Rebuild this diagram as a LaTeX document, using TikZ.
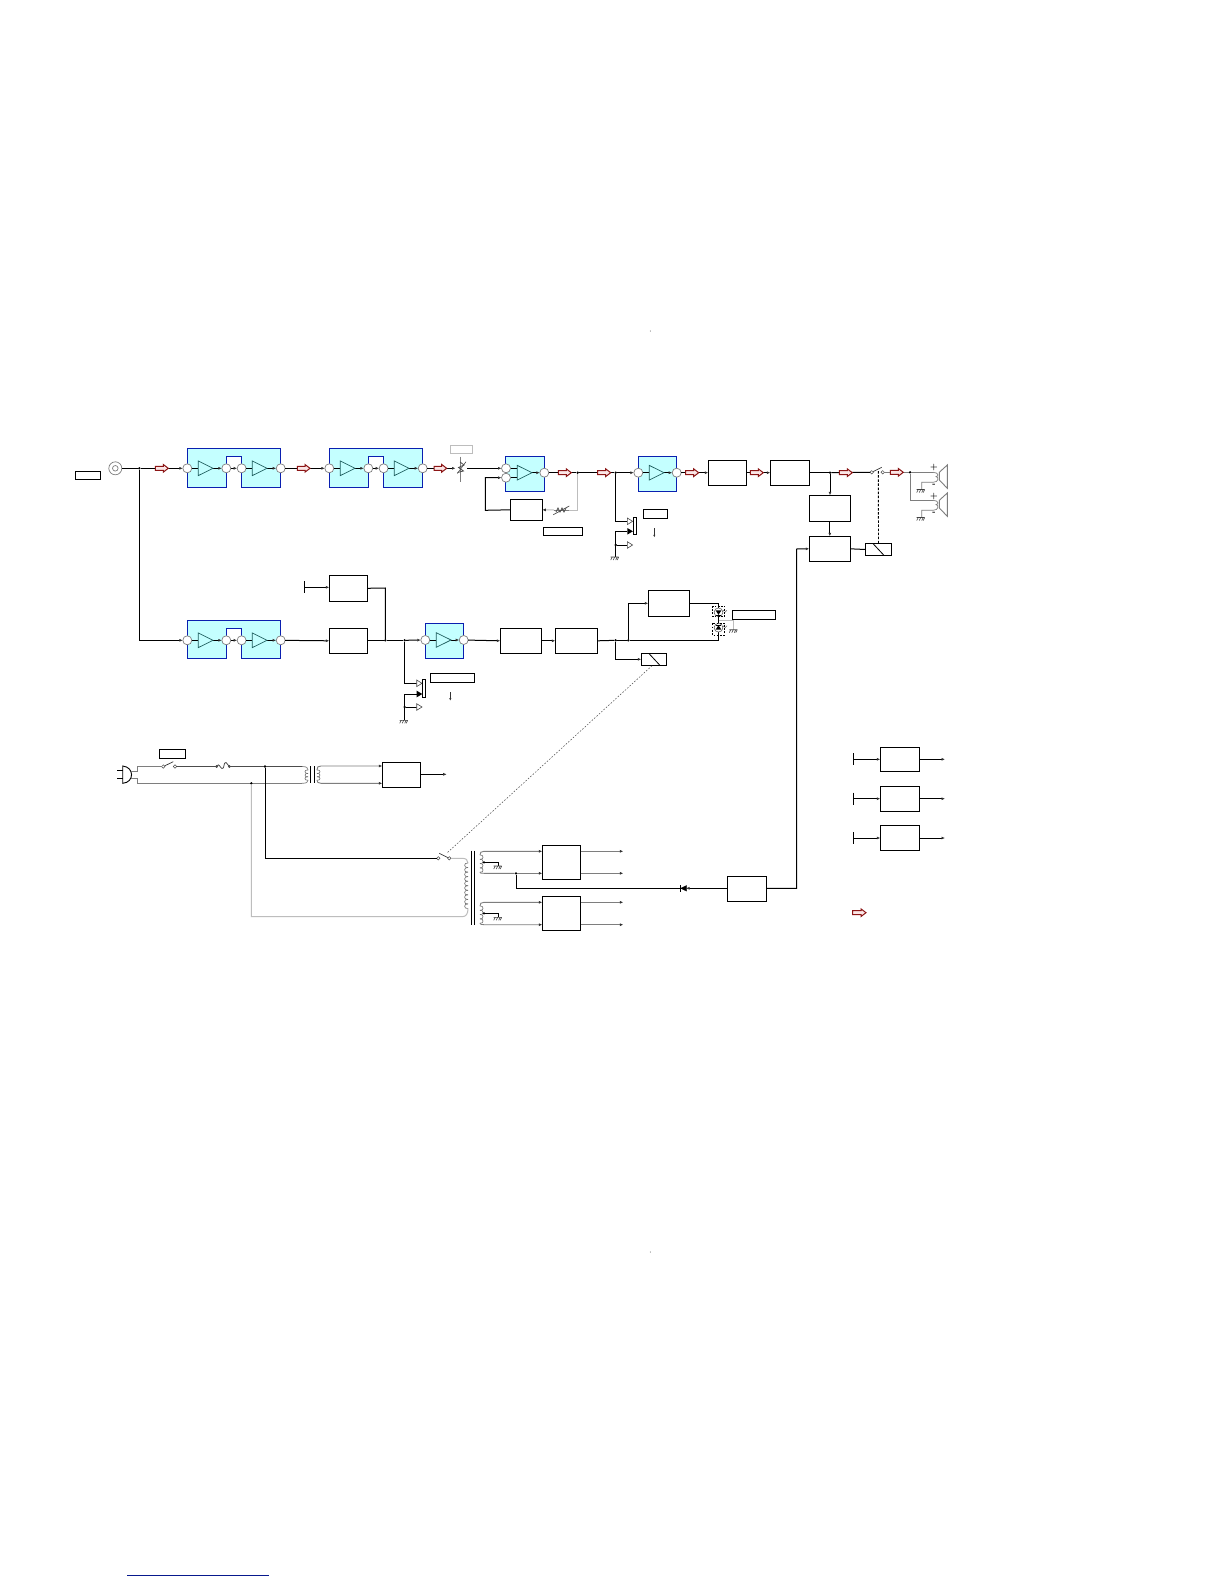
\documentclass[tikz,border=0pt]{standalone}
\usepackage{tikz}
\usetikzlibrary{arrows.meta}
\definecolor{ampfill}{HTML}{C4FFFF}
\definecolor{ampblue}{HTML}{0A1FB0}
\definecolor{redarr}{HTML}{8C1616}
\definecolor{redin}{HTML}{FBE6E6}
\definecolor{wiregray}{HTML}{7E7E7E}
\definecolor{lightw}{HTML}{BDBDBD}
\definecolor{trig}{HTML}{1F5F5F}
\tikzset{
  bx/.style={draw=black,line width=1pt,fill=white,inner sep=0pt,outer sep=0pt},
  wire/.style={draw=black,line width=1pt},
  gw/.style={draw=wiregray,line width=.9pt},
  lw/.style={draw=lightw,line width=1pt},
  tip/.style={-{Latex[length=3.5pt,width=3pt,color=black!80]}},
  port/.style={circle,draw=wiregray,line width=.7pt,fill=white,minimum size=9pt,inner sep=0pt,outer sep=0pt},
  contact/.style={circle,draw=black!70,line width=.5pt,fill=white,minimum size=3.4pt,inner sep=0pt,outer sep=0pt},
  dot/.style={circle,fill=black,minimum size=2.6pt,inner sep=0pt,outer sep=0pt},
  tick/.style={draw=black,line width=1pt},
}
\newcommand\bxn[5]{\node[bx,minimum width={#4-#2},minimum height={#5-#3}] (#1) at ({(#2+#4)/2},{(#3+#5)/2}) {};}
\newcommand\tri[3]{\draw[trig,line width=.7pt,fill=ampfill] ({#1},{(#2)-7.3}) -- ({(#1)+#3},{#2}) -- ({#1},{(#2)+7.3}) -- cycle;}
\newcommand\ramp[4]{\draw[redarr,line width=1pt,fill=redin] (#1,{#3-2}) -- ({#2-5},{#3-2}) -- ({#2-5},{#3-3.8}) -- (#2,#3) -- ({#2-5},{#3+3.8}) -- ({#2-5},{#3+2}) -- (#1,{#3+2}) -- cycle;}
% double amplifier block: name, left x, top y, height
\newcommand\damp[4]{%
  \draw[ampblue,line width=1pt,fill=ampfill] (#2,#3) -- ({#2+93.4},#3) -- ({#2+93.4},{#3+#4}) -- ({#2+54.3},{#3+#4}) -- ({#2+54.3},{#3+8}) -- ({#2+39},{#3+8}) -- ({#2+39},{#3+#4}) -- (#2,{#3+#4}) -- cycle;
  \fill[white] ({#2+39.5},{#3+8.5}) rectangle ({#2+53.8},{#3+#4+1});
  \node[port] (#1a) at (#2,{#3+20}) {};
  \node[port] (#1b) at ({#2+39},{#3+20}) {};
  \node[port] (#1c) at ({#2+54.3},{#3+20}) {};
  \node[port] (#1d) at ({#2+93.4},{#3+20}) {};
  \coordinate (#1t) at ({#2+11},{#3+20});
  \coordinate (#1u) at ({#2+65},{#3+20});
  \coordinate (#1v) at ({#2+26},{#3+20});
  \coordinate (#1w) at ({#2+80},{#3+20});
  \draw[wire] (#1a) -- (#1t);
  \draw[wire,tip] (#1v) -- (#1b);
  \draw[wire,tip] (#1b) -- (#1c);
  \draw[wire] (#1c) -- (#1u);
  \draw[wire,tip] (#1w) -- (#1d);
  \tri{#2+11}{#3+20}{14.7}
  \tri{#2+65}{#3+20}{14.7}
}
% single amplifier block: name, x1, x2, y1, y2, wire y
\newcommand\samp[6]{%
  \draw[ampblue,line width=1pt,fill=ampfill] (#2,#4) rectangle (#3,#5);
  \node[port] (#1a) at (#2,#6) {};
  \node[port] (#1d) at (#3,#6) {};
  \coordinate (#1t) at ({#2+11},#6);
  \coordinate (#1v) at ({#2+25.7},#6);
  \draw[wire] (#1a) -- (#1t);
  \draw[wire,tip] (#1v) -- (#1d);
  \tri{#2+11}{#6}{14.7}
}
\newcommand\gnd[2]{\draw[black!75,line width=.6pt] ({(#1)-4},{#2}) -- ({(#1)+4},{#2})
  ({(#1)-2.5},{#2}) -- ({(#1)-4},{(#2)+3}) ({#1},{#2}) -- ({(#1)-1.5},{(#2)+3}) ({(#1)+2.5},{#2}) -- ({(#1)+1},{(#2)+3}) ({(#1)+4},{#2}) -- ({(#1)+2.5},{(#2)+3});}
\newcommand\relayn[5]{\bxn{#1}{#2}{#3}{#4}{#5}\draw[black,line width=.8pt] ({#2+7.7},{#3+.3}) -- ({#2+18.7},{#5-.3});}
\newcommand\htri[2]{\draw[black!70,line width=.6pt,fill=white] (#1,{#2-3.3}) -- ({#1+5.3},#2) -- (#1,{#2+3.3}) -- cycle;}
\newcommand\ftri[2]{\fill[black] (#1,{#2-3.3}) -- ({#1+5.6},#2) -- (#1,{#2+3.3}) -- cycle;}
\newcommand\coilv[6]{% x, y1, step, count, bulge, colour
  \foreach \ci in {1,...,#4}{\draw[#6,line width=.55pt] (#1,{#2+(\ci-1)*#3}) .. controls ({#1+#5},{#2+(\ci-1)*#3-.8}) and ({#1+#5},{#2+\ci*#3+.8}) .. (#1,{#2+\ci*#3});}}
\begin{document}
\begin{tikzpicture}[x=1pt,y=-1pt,line cap=butt]
\useasboundingbox[fill=white] (0,0) rectangle (1224,1584);
% stray marks and bottom rule
\fill[black!70] (650.4,331) circle (.5);
\fill[black!70] (650.4,1252) circle (.5);
\draw[ampblue!80!black,line width=1pt] (127,1575.3) -- (268.7,1575.3);

%% top chain
\bxn{lblin}{75.3}{471.3}{100.7}{479.3}
\node[circle,draw=wiregray,line width=.7pt,minimum size=13pt,inner sep=0pt] (coax) at (115.3,468.3) {};
\node[circle,draw=wiregray,line width=.7pt,minimum size=5.6pt,inner sep=0pt] at (115.3,468.3) {};
\node[dot] (j0) at (139.3,468.3) {};
\damp{A}{187.3}{448.3}{39}
\damp{B}{329.3}{448.3}{39}
\draw[wire] (coax) -- (j0);
\draw[wire,tip] (j0) -- (Aa);
\draw[wire,tip] (Ad) -- (Ba);
\ramp{155.3}{168.3}{468.3}{}
\ramp{297.3}{310}{468.3}{}
% volume
\coordinate (vr) at (455.5,468.3);
\coordinate (vr2) at (467,468.3);
\draw[wire,tip] (Bd) -- (vr);
\ramp{434}{446.7}{468.3}{}
\draw[lightw,line width=.8pt] (450.7,445.3) rectangle (472.3,453.7);
\draw[wiregray,line width=.7pt] (460.7,456.7) -- (460.7,481.7);
\draw[black!70,line width=.8pt] (457.5,472.5) -- (463.5,471) -- (458.5,467.5) -- (464,465) -- (460,462);
\draw[black!70,line width=.6pt] (457.3,473.5) -- (466,461.7);
% fader IC
\draw[ampblue,line width=1pt,fill=ampfill] (505.3,456.3) rectangle (544.7,491.3);
\node[port] (Cd) at (544.3,472.7) {};
\node[port] (Cp) at (506,468.3) {};
\node[port] (Cq) at (506,477.7) {};
\draw[wire] (Cp) -- (517.3,468.3);
\draw[wire] (Cq) -- (517.3,477.7);
\coordinate (Cv) at (532,472.7);
\draw[wire,tip] (Cv) -- (Cd);
\tri{517.3}{472.7}{14.7}
\draw[wire,tip] (vr2) -- (Cp);
\bxn{fb}{510.3}{499.3}{542.3}{520.3}
\coordinate (fbl) at (485.3,510.3);
\draw[wire,tip] (fb.west) -- (fbl) -- (fbl |- Cq) -- (Cq);
\bxn{lblfb}{543.3}{527.3}{582.7}{535.3}
\node[dot] (j1) at (577.7,472.7) {};
\node[dot] (j2) at (615.7,472.7) {};
\samp{D}{638.3}{676.7}{456.3}{491.3}{472.7}
\draw[wire] (Cd) -- (j1);
\draw[wire] (j1) -- (j2);
\draw[wire,tip] (j2) -- (Da);
\draw[lw] (j1) -- (577.7,510) -- (569,510);
\draw[lw,tip] (554,510) -- (fb.east);
\draw[wiregray,line width=.7pt] (554,510) -- (569,510);
\draw[black!70,line width=.7pt] (553.3,514.7) -- (569.3,506);
\draw[black!70,line width=.7pt] (556,512) -- (558,508) -- (560,512) -- (562,508) -- (564,512) -- (566,508);
\ramp{558.3}{571.3}{472.7}{}
\ramp{597.7}{610.7}{472.7}{}
% headphone jack upper
\draw[wire] (j2) -- (615.7,521.3) -- (627.3,521.3);
\coordinate (jg) at (615.7,556.7);
\node[dot] (jd) at (615.7,545) {};
\draw[wire] (627.3,531.3) -- (615.7,531.3) -- (jg);
\draw[wire] (jd) -- (627.3,545);
\htri{627.3}{521.3}
\ftri{627.3}{531.3}
\htri{627.3}{545}
\draw[black,line width=1pt,fill=white] (633.3,517.3) rectangle (636.3,534.3);
\gnd{614.7}{557}
\bxn{lbljk}{643.3}{509.3}{667.7}{518.3}
\draw[black!80,line width=.7pt,-{Latex[length=2.5pt,width=2.2pt]}] (654.3,528.3) -- (654.3,537.3);
% power stages
\bxn{E}{708.3}{460.3}{746.7}{485.1}
\bxn{F}{770.3}{460.3}{809.3}{485.1}
\draw[wire,tip] (Dd) -- (E.west);
\draw[wire,tip] (E.east) -- (F.west);
\ramp{685.7}{698.7}{472.7}{}
\ramp{750.3}{763.3}{472.7}{}
\node[dot] (j3) at (830,472.7) {};
\node[contact] (k1) at (871.7,472.3) {};
\node[contact] (k2) at (882.7,472.3) {};
\node[dot] (j4) at (910,472.3) {};
\draw[wire] (F.east) -- (j3);
\draw[wire] (j3) -- (k1);
\draw[black!80,line width=.7pt] (k1) -- (881.7,467.3);
\ramp{839.3}{852.3}{472.7}{}
\draw[gw] (k2) -- (j4);
\ramp{890.3}{903.3}{472.3}{}
\bxn{G}{809.3}{495.3}{850.3}{521.3}
\bxn{H}{809.3}{536.3}{850.3}{561.3}
\draw[wire,tip] (j3) -- (j3 |- G.north);
\draw[wire,tip] (G.south) -- (H.north);
\relayn{R1}{865.3}{543.3}{891.7}{555.7}
\draw[wire] (H.east) -- (R1.west);
\coordinate (rd) at (878.3,470);
\draw[black,line width=.9pt,dash pattern=on 2.5pt off 1.6pt] (R1.north) -- (rd);
% speakers
\draw[gw] (j4) -- (933,472.3) (j4) -- (910,500.3) -- (933,500.3);
\foreach \yy in {0,28}{
  \draw[gw] (939.3,{472.3+\yy}) -- (947.3,{465+\yy}) -- (947.3,{488.3+\yy}) -- (939.3,{480+\yy}) -- cycle;
  \draw[wiregray,line width=.7pt] (933,{472.3+\yy}) .. controls (939,{472.5+\yy}) and (939,{476.5+\yy}) .. (936,{476.5+\yy}) .. controls (939,{477+\yy}) and (939,{482.3+\yy}) .. (933,{482.3+\yy}) -- (921.7,{482.3+\yy}) -- (921.7,{489.3+\yy});
  \gnd{920.7}{489.5+\yy}
}
\node[inner sep=0pt,font=\fontsize{8}{8}\selectfont\bfseries] (sp1) at (934,467.6) {+};
\node[inner sep=0pt,font=\fontsize{8}{8}\selectfont\bfseries] (sm1) at (934,485) {-};
\node[inner sep=0pt,font=\fontsize{8}{8}\selectfont\bfseries] (sp2) at (934,496.6) {+};
\node[inner sep=0pt,font=\fontsize{8}{8}\selectfont\bfseries] (sm2) at (934,513.2) {-};

%% second chain
\damp{K}{187.3}{620.3}{38.4}
\coordinate (jc) at (139.3,640.3);
\draw[wire] (j0) -- (jc);
\draw[wire,tip] (jc) -- (Ka);
\bxn{L}{329.3}{628.3}{367.3}{653.3}
\bxn{M}{329.3}{575.3}{367.3}{601.3}
\draw[wire,tip] (Kd) -- (L.west);
\coordinate (tm) at (304.3,587.3);
\draw[tick] (304.3,581.3) -- (304.3,592.7);
\draw[wire,tip] (tm) -- (tm -| M.west);
\node[dot] (j5) at (385.3,640.3) {};
\node[dot] (j6) at (404.7,640.3) {};
\draw[wire] (L.east |- j5) -- (j5);
\draw[wire] (j5) -- (j6);
\draw[wire] (M.east) -- (385.3,588) -- (j5);
\samp{N}{425.3}{463.7}{623.3}{658.3}{640}
\draw[wire,tip] (j6) -- (Na);
% jack lower
\draw[wire] (j6) -- (404.7,683.3) -- (416.7,683.3);
\node[dot] (je) at (404.7,707) {};
\draw[wire] (416.7,694) -- (404.7,694) -- (404.7,720);
\draw[wire] (je) -- (416.7,707);
\htri{416.7}{683.3}
\ftri{416.7}{694}
\htri{416.7}{707}
\draw[black,line width=1pt,fill=white] (422.7,679.3) rectangle (425.7,697.7);
\gnd{403.7}{720.3}
\bxn{lblj2}{430.3}{673.3}{474.7}{682.3}
\draw[black!80,line width=.7pt,-{Latex[length=2.5pt,width=2.2pt]}] (450.3,692.3) -- (450.3,700.7);
% after N
\bxn{P}{500.3}{628.3}{541.7}{653.3}
\bxn{Q}{555.3}{628.3}{597.7}{653.3}
\bxn{S}{648.3}{590.3}{689.7}{616.3}
\draw[wire,tip] (Nd) -- (P.west);
\draw[wire,tip] (P.east |- Q.west) -- (Q.west);
\node[dot] (j7) at (615.7,640.3) {};
\node[dot] (j8) at (628.3,640.3) {};
\draw[wire] (Q.east) -- (j7);
\draw[wire] (j7) -- (j8);
\draw[wire,tip] (j8) -- (628.3,603.3) -- (S.west);
\coordinate (ledb) at (718.7,640.3);
\coordinate (ledt) at (718.7,603.3);
\draw[wire] (j8) -- (ledb) -- (ledt) -- (S.east);
% LEDs
\foreach \ly/\dd in {612.3/1,627.7/-1}{
  \draw[black!70,line width=.5pt,fill=white] (718.5,\ly) circle (4.4);
  \fill[black] (715.6,{\ly-\dd*2}) -- (721.4,{\ly-\dd*2}) -- (718.5,{\ly+\dd*2.6}) -- cycle;
  \draw[black,line width=.8pt] (715.6,{\ly+\dd*2.6}) -- (721.4,{\ly+\dd*2.6});
  \draw[black!60,line width=.5pt] (725,{\ly-3}) -- (722.5,{\ly-.5}) (727,{\ly-2}) -- (724.5,{\ly+.5});
}
\draw[black,line width=.8pt,dash pattern=on 1.8pt off 1.4pt] (712.5,606) rectangle (724.5,616.7);
\draw[black,line width=.8pt,dash pattern=on 1.8pt off 1.4pt] (712.5,623.3) rectangle (724.5,635);
\draw[lightw,line width=.9pt] (718.7,620.7) -- (733.3,620.7) -- (733.3,629.5);
\gnd{733.3}{629.7}
\bxn{lblled}{732.3}{610.3}{775.7}{619.7}
\relayn{R2}{641.3}{653.3}{666.7}{665.7}
\coordinate (rr) at (615.7,659.3);
\draw[wire,tip] (j7) -- (rr) -- (rr -| R2.west);

%% power section
\bxn{lblsw}{159.3}{749.3}{185.7}{758.7}
\node[contact] (s1) at (163.3,766.5) {};
\node[contact] (s2) at (175,766.5) {};
\draw[black!80,line width=.7pt] (s1) -- (173.3,761.7);
% plug
\draw[black,line width=.9pt,fill=white] (122.7,766) .. controls (134.5,767) and (134.5,782.5) .. (122.7,783.3) -- cycle;
\draw[black,line width=.9pt] (117.3,770.7) -- (122.7,770.7) (117.3,778.3) -- (122.7,778.3);
\coordinate (pt) at (137.7,766.5);
\coordinate (pb) at (137.7,783.3);
\draw[gw] (130.5,771) -- (137.7,771) -- (pt) -- (s1);
\draw[gw] (130.5,778.5) -- (137.7,778.5) -- (pb) -- (302,783.3);
\coordinate (fu1) at (216.7,766.5);
\coordinate (fu2) at (229.3,766.5);
\draw[black!70,line width=.8pt] (s2) -- (fu1);
\draw[black!70,line width=.8pt] (fu1) .. controls (219,762) and (220,768) .. (222,768.5) .. controls (225,769) and (223,762) .. (226,762.5) .. controls (227.5,763) and (228,766) .. (fu2);
\draw[fill=white,black!70,line width=.4pt] (fu1) circle (1.2) (fu2) circle (1.2);
\node[dot] (jp) at (265,766.5) {};
\node[dot] (jn) at (251.3,783.3) {};
\draw[black!70,line width=.8pt] (fu2) -- (jp);
\draw[black!70,line width=.8pt] (jp) -- (302,766.5);
% small transformer
\draw[wiregray,line width=.7pt] (302,766.5) .. controls (307,766.5) and (308,768) .. (308,770);
\draw[wiregray,line width=.7pt] (302,783.3) .. controls (307,783.3) and (308,782) .. (308,780);
\coilv{308}{770}{3.4}{3}{-4}{black!60}
\draw[black,line width=.8pt] (310.7,766) -- (310.7,783.3) (314,766) -- (314,783.3);
\coilv{317}{770}{3.4}{3}{4}{black!60}
\bxn{T}{382.3}{762.3}{420.7}{787.7}
\coordinate (tr1) at (317,770);
\coordinate (tr2) at (317,780.2);
\draw[gw,tip] (tr1) .. controls (317,767) and (318,766) .. (321,766) -- (T.west |- 0,766);
\draw[gw,tip] (tr2) .. controls (317,782) and (318,783.3) .. (321,783.3) -- (T.west |- 0,783.3);
\coordinate (to) at (446.7,774.3);
\draw[wire,tip] (T.east |- to) -- (to);
% big transformer
\node[contact] (c1) at (438.3,858.3) {};
\node[contact] (c2) at (449.3,858.3) {};
\draw[black!80,line width=.7pt] (439.3,853.3) -- (c2);
\coordinate (pj) at (265,858.3);
\draw[wire] (jp) -- (pj) -- (c1);
\draw[lw] (c2) -- (462,858.3) .. controls (466,858.3) and (468,860) .. (468,863);
\coilv{468}{863}{4.55}{10}{-4.5}{black!60}
\draw[lw] (jn) -- (251.3,916.7) -- (462,916.7) .. controls (466,916.7) and (468,914) .. (468,908.5);
\draw[black,line width=.9pt] (471,850.7) -- (471,925) (474.3,850.7) -- (474.3,925);
% upper secondary
\bxn{U}{542.3}{845.3}{580.7}{879.3}
\bxn{V}{542.3}{896}{580.7}{930.3}
\coilv{480}{855}{4.3}{4}{4}{black!60}
\coilv{480}{906}{4.3}{4}{4}{black!60}
\draw[gw,tip] (480,855) .. controls (480,852.5) and (481,851.3) .. (484,851.3) -- (U.west |- 0,851.3);
\node[dot] (j9) at (516,873.3) {};
\draw[gw] (480,872.2) .. controls (480,873) and (481,873.3) .. (484,873.3) -- (j9);
\draw[gw,tip] (j9) -- (U.west |- j9);
\draw[gw,tip] (480,906) .. controls (480,903.5) and (481,902.3) .. (484,902.3) -- (V.west |- 0,902.3);
\draw[gw,tip] (480,923.2) .. controls (480,924) and (481,924.7) .. (484,924.7) -- (V.west |- 0,924.7);
\draw[gw,tip] (U.east |- 0,851.3) -- (623.3,851.3);
\draw[gw,tip] (U.east |- 0,873.3) -- (623.3,873.3);
\draw[gw,tip] (V.east |- 0,902.3) -- (623.3,902.3);
\draw[gw,tip] (V.east |- 0,924.7) -- (623.3,924.7);
\draw[black,line width=.8pt] (484,862.3) -- (498.3,862.3) -- (498.3,866);
\fill[black] (484,862.3) circle (1.3);
\gnd{497.7}{866}
\draw[black,line width=.8pt] (484,913.3) -- (498.3,913.3) -- (498.3,917.3);
\fill[black] (484,913.3) circle (1.3);
\gnd{497.7}{917.3}
% mechanical link
\draw[black!70,line width=.5pt,dash pattern=on 1.6pt off 1.6pt] (R2.south) ++(-2,0) -- (447.5,852.5);
% protect line
\bxn{W}{727.3}{876}{766.7}{901.7}
\coordinate (tap) at (516,888.3);
\draw[wire] (j9) -- (tap) -- (681.5,888.3);
\draw[wire,tip] (W.west |- tap) -- (686,888.3);
\draw[fill=black] (686.5,885.5) -- (680.8,888.3) -- (686.5,891.1) -- cycle;
\draw[black,line width=.9pt] (680.5,885) -- (680.5,891.6);
\coordinate (pr) at (796.7,888.3);
\draw[wire,tip] (W.east |- pr) -- (pr) -- (796.7,549) -- (H.west);

%% regulators, right
\bxn{X1}{880.3}{747.3}{919.7}{771.3}
\bxn{X2}{880.3}{786.3}{919.7}{811.1}
\bxn{X3}{880.3}{825.3}{919.7}{850.7}
\draw[tick] (853.3,753.3) -- (853.3,765.3);
\draw[tick] (853.3,792.7) -- (853.3,804.7);
\draw[tick] (853.3,832.3) -- (853.3,844.3);
\coordinate (x1i) at (853.3,759.3);
\coordinate (x2i) at (853.3,798.7);
\coordinate (x3i) at (853.3,838);
\draw[wire,tip] (x1i) -- (x1i -| X1.west);
\draw[wire,tip] (x2i) -- (x2i -| X2.west);
\draw[wire,tip] (x3i) -- (x3i -| X3.west);
\coordinate (x1o) at (945,759.3);
\coordinate (x2o) at (945,798.7);
\coordinate (x3o) at (945,838);
\draw[wire,tip] (X1.east) -- (x1o);
\draw[wire,tip] (X2.east) -- (x2o);
\draw[wire,tip] (X3.east) -- (x3o);
\ramp{852.7}{866}{912.7}{}
\end{tikzpicture}
\end{document}
